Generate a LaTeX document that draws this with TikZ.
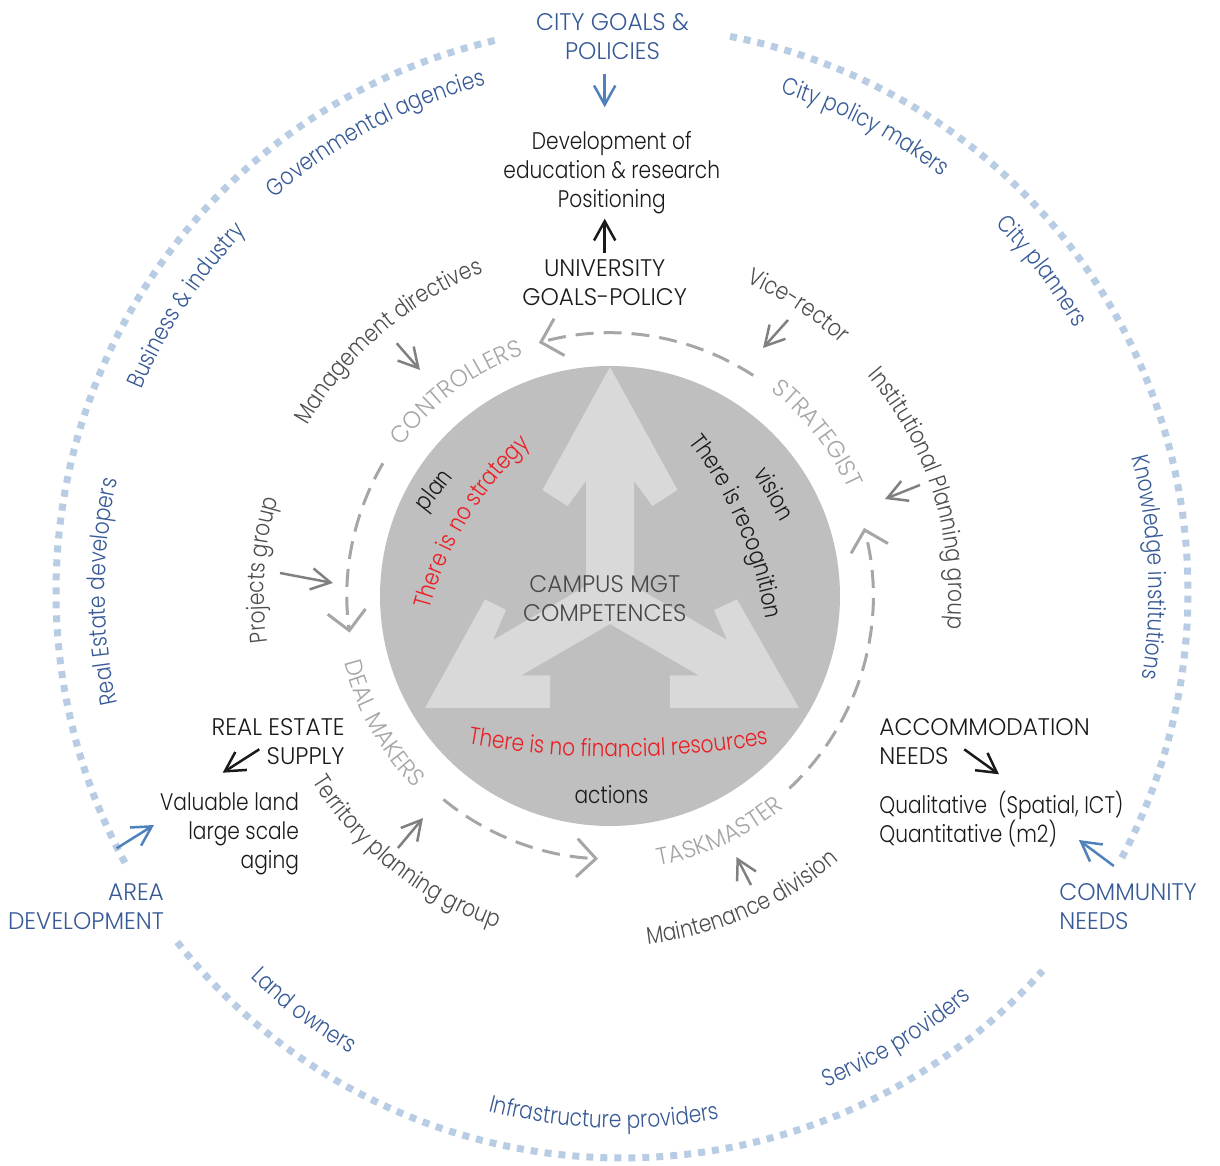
\documentclass[tikz,border=0pt,12pt]{standalone}
\usepackage{fontspec}
\IfFontExistsTF{Poppins Light}{\def\mainface{Poppins Light}}{\def\mainface{Poppins}}
\setmainfont{\mainface}[FakeStretch=0.84]
\newfontfamily\capsfont{\mainface}[FakeStretch=0.97]
\usetikzlibrary{calc,arrows.meta,decorations.text}

\definecolor{ringblue}{RGB}{184,204,228}
\definecolor{labelblue}{RGB}{55,90,150}
\definecolor{arrowblue}{RGB}{79,129,189}
\definecolor{diskgray}{RGB}{191,191,191}
\definecolor{arrowlight}{RGB}{217,217,217}
\definecolor{rolegray}{RGB}{166,166,166}
\definecolor{actorgray}{RGB}{77,77,77}
\definecolor{tipgray}{RGB}{128,128,128}
\definecolor{campusgray}{RGB}{72,72,72}
\definecolor{nored}{RGB}{235,30,35}
\definecolor{inkblack}{RGB}{26,26,26}

\def\ringarc[#1](#2)(#3:#4:#5){\draw[#1] ($(#2)+(#3:#5)$) arc (#3:#4:#5);}
\def\arctext[#1](#2)(#3:#4:#5)#6{\path[decorate,decoration={text along path,text align=center,text={|#1|#6}}] ($(#2)+(#3:#5)$) arc (#3:#4:#5);}

\tikzset{
  ring/.style={draw=ringblue,line width=3.5pt,dash pattern=on 3.5pt off 3.5pt},
  roleloop/.style={draw=rolegray,line width=1.5pt,dash pattern=on 9pt off 5pt,-{Straight Barb[angle=90:13.5pt]}},
  pointer/.style={draw=tipgray,line width=1.25pt,-{Straight Barb[angle=58:11pt]}},
  inklink/.style={draw=inkblack,line width=1.25pt,-{Straight Barb[angle=58:11pt]}},
  bluelink/.style={draw=arrowblue,line width=1.25pt,-{Straight Barb[angle=58:11pt]}},
  inktext/.style={inner sep=0pt,text=inkblack},
  bluetext/.style={inner sep=0pt,text=labelblue},
  campustext/.style={inner sep=0pt,text=campusgray}
}

\begin{document}
\begin{tikzpicture}[x=0.5pt,y=0.5pt]
			%%%%% START %%%%%
			\useasboundingbox (-610,-570) rectangle (610,596);
			
			% outer ring of stakeholders
			\ringarc[ring](12,4)(103:208.7:566)
			\ringarc[ring](12,4)(218.2:318:566)
			\ringarc[ring](12,4)(332:439.5:566)
			
			% competences disk
			\fill[diskgray] (0,0) circle (230);
			\fill[arrowlight] (0,229) -- (67.5,106) -- (42.5,90) -- (24,115) -- (24,10)
				-- (117,-44) -- (104,-14) -- (127,-3.5) -- (189,-112) -- (60,-112) -- (60,-79.5)
				-- (89,-79.5) -- (0,-28) -- (-89,-79.5) -- (-60,-79.5) -- (-60,-112) -- (-185,-112)
				-- (-125,-3.5) -- (-104,-14) -- (-117,-44) -- (-24,10) -- (-24,115) -- (-42.5,90)
				-- (-67.5,106) -- cycle;
			
			\node[campustext,font=\capsfont,align=center] (campus) at (-5.2,-3) {CAMPUS MGT\\COMPETENCES};
			\node[inktext,anchor=base] (actions) at (1.5,-207) {actions};
			\node[inktext,rotate=52] (plan) at (-175,105) {plan};
			\node[inktext,rotate=-60] (vision) at (165,102.7) {vision};
			\arctext[\color{nored}](151.8,-103.3)(178.6:118.6:344){There is no strategy}
			\arctext[\color{inkblack}](-233,-87)(53.5:-6.5:394){There is recognition}
			\arctext[\color{nored}](8.5,711)(255:285:872){There is no financial resources}
			
			% roles around the disk
			\ringarc[roleloop](0,0)(57:105.7:263)
			\ringarc[roleloop](0,0)(149.7:188:263)
			\ringarc[roleloop](0,0)(230.7:267.4:263)
			\ringarc[roleloop](0,0)(313:375:263)
			
			\arctext[\capsfont\color{rolegray}](0,0)(167:87:256){CONTROLLERS}
			\arctext[\capsfont\color{rolegray}](0,0)(78:-2:261){STRATEGIST}
			\arctext[\capsfont\color{rolegray}](0,0)(169.3:249.3:274){DEAL MAKERS}
			\arctext[\capsfont\color{rolegray}](0,0)(254.8:334.8:274){TASKMASTER}
			
			% actors
			\arctext[\color{actorgray}](0,0)(161:101:347){Management directives}
			\arctext[\color{actorgray}](0,0)(87:27:342){Vice-rector}
			\arctext[\color{actorgray}](0,0)(47.5:-12.5:339){Institutional Planning group}
			\arctext[\color{actorgray}](0,0)(205.7:145.7:346){Projects group}
			\arctext[\color{actorgray}](0,0)(201.6:261.6:351){Territory planning group}
			\arctext[\color{actorgray}](0,0)(263.5:323.5:350){Maintenance division}
			
			\draw[pointer] (-213.3,252.7) -- (-190,226);
			\draw[pointer] (178,276) -- (153,248);
			\draw[pointer] (310,111) -- (275,97);
			\draw[pointer] (-330,23) -- (-277,13);
			\draw[pointer] (-212,-252) -- (-187,-222);
			\draw[pointer] (141,-289) -- (126.5,-261);
			
			% stakeholders on the ring
			\arctext[\color{labelblue}](12,4)(148.2:88.2:525){Governmental agencies}
			\arctext[\color{labelblue}](12,4)(92.4:32.4:524){City policy makers}
			\arctext[\color{labelblue}](12,4)(67.4:7.4:524){City planners}
			\arctext[\color{labelblue}](12,4)(32.7:-27.3:527){Knowledge institutions}
			\arctext[\color{labelblue}](12,4)(176.7:116.7:521){Business {\&} industry}
			\arctext[\color{labelblue}](12,4)(210:150:517){Real Estate developers}
			\arctext[\color{labelblue}](12,4)(202.8:262.8:536){Land owners}
			\arctext[\color{labelblue}](12,4)(238:298:536){Infrastructure providers}
			\arctext[\color{labelblue}](12,4)(271.6:331.6:536){Service providers}
			
			% goals on top
			\node[bluetext,font=\capsfont,align=center] (city) at (2.5,559.3) {CITY GOALS \&\\POLICIES};
			\node[inktext,align=center] (devel) at (1.8,423) {Development of\\education \& research\\Positioning};
			\node[inktext,font=\capsfont,align=center] (univ) at (-5.3,313) {UNIVERSITY\\GOALS-POLICY};
			\draw[bluelink,shorten <=7pt,shorten >=12pt] (city.south -| univ.north) -- (devel.north -| univ.north);
			\draw[inklink,shorten <=3.5pt,shorten >=2pt] (univ.north) -- (devel.south -| univ.north);
			
			% supply side
			\node[inktext,font=\capsfont,align=right,anchor=east] (resupply) at (-265,-146) {REAL ESTATE\\SUPPLY};
			\node[inktext,align=right,anchor=east] (valuable) at (-310.7,-238) {Valuable land\\large scale\\aging};
			\node[bluetext,font=\capsfont,align=right,anchor=east] (area) at (-445.7,-311) {AREA\\DEVELOPMENT};
			\coordinate (supplyfrom) at (-350.7,-153.3);
			\coordinate (supplyto) at (-387.3,-176.7);
			\coordinate (areafrom) at (-493.3,-252.3);
			\coordinate (areato) at (-456,-229);
			\draw[inklink] (supplyfrom) -- (supplyto);
			\draw[bluelink] (areafrom) -- (areato);
			
			% demand side
			\node[inktext,font=\capsfont,align=left,anchor=west] (accom) at (269,-146) {ACCOMMODATION\\NEEDS};
			\node[inktext,align=left,anchor=west] (qual) at (269,-222.7) {Qualitative~ (Spatial, ICT)\\Quantitative (m2)};
			\node[bluetext,font=\capsfont,align=left,anchor=west] (community) at (449,-311) {COMMUNITY\\NEEDS};
			\coordinate (needsfrom) at (354.2,-153.3);
			\coordinate (needsto) at (389,-178.3);
			\coordinate (communityfrom) at (503.8,-270);
			\coordinate (communityto) at (468.9,-244);
			\draw[inklink] (needsfrom) -- (needsto);
			\draw[bluelink] (communityfrom) -- (communityto);
			
			%%%%% END %%%%%
\end{tikzpicture}
\end{document}
